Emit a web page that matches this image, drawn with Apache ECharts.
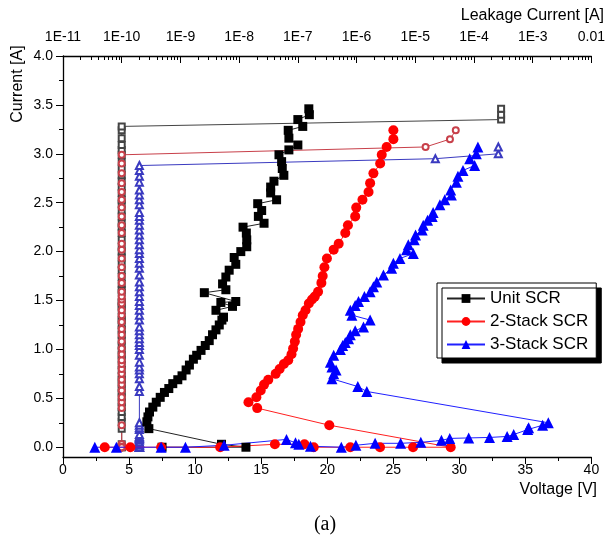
<!DOCTYPE html>
<html>
<head>
<meta charset="utf-8">
<script src="https://cdn.jsdelivr.net/npm/echarts@6/dist/echarts.min.js"></script>
<style>
html,body{margin:0;padding:0;background:#fff;}
#chart{width:608px;height:548px;}
</style>
</head>
<body>
<div id="chart"></div>
<script>
// ---------- DATA ----------
const seriesNames = ['Unit SCR', '2-Stack SCR', '3-Stack SCR'];
const voltageTicks = [0, 5, 10, 15, 20, 25, 30, 35, 40];
const currentTicks = ['0.0','0.5','1.0','1.5','2.0','2.5','3.0','3.5','4.0'];
const leakageTicks = [1e-11, 1e-10, 1e-9, 1e-8, 1e-7, 1e-6, 1e-5, 1e-4, 1e-3, 1e-2];
const leakageMinorTicks = [2,3,4,5,6,7,8,9];

// Unit SCR : TLP voltage [V] / current [A]
const unitV = [7.5, 13.85, 12.0, 6.50, 6.35, 6.43, 6.55, 6.80, 7.06, 7.36, 7.68, 8.01, 8.31, 8.69, 9.01, 9.32, 9.57, 9.87, 10.12, 10.45,
  10.77, 11.07, 11.32, 11.58, 11.83, 12.03, 12.15, 11.58, 12.83, 11.95, 13.08, 10.70, 12.33, 12.08, 12.33, 12.58, 13.08, 12.96, 13.46, 13.91,
  13.91, 13.88, 13.63, 15.22, 14.79, 15.04, 14.74, 16.17, 15.72, 15.72, 15.97, 16.72, 16.60, 16.55, 16.35, 17.10, 17.78, 17.10, 17.05, 18.15,
  17.78, 18.65, 18.61];
const unitI = [0.0, 0.0, 0.03, 0.19, 0.26, 0.31, 0.36, 0.41, 0.46, 0.51, 0.56, 0.60, 0.65, 0.69, 0.73, 0.79, 0.84, 0.90, 0.94, 0.99,
  1.04, 1.09, 1.15, 1.20, 1.25, 1.30, 1.33, 1.40, 1.44, 1.48, 1.49, 1.58, 1.61, 1.67, 1.74, 1.81, 1.87, 1.94, 2.00, 2.05,
  2.12, 2.19, 2.25, 2.29, 2.36, 2.42, 2.49, 2.53, 2.60, 2.66, 2.72, 2.78, 2.85, 2.92, 2.99, 3.04, 3.09, 3.16, 3.24, 3.28,
  3.35, 3.40, 3.46];
const unitLeak = [1.0e-10, 1.0e-10, 1.0e-10, 1.0e-10, 1.0e-10, 1.0e-10, 1.0e-10, 1.0e-10, 1.0e-10, 1.0e-10,
  1.0e-10, 1.0e-10, 1.0e-10, 1.0e-10, 1.0e-10, 1.0e-10, 1.0e-10, 1.0e-10, 1.0e-10, 1.0e-10,
  1.0e-10, 1.0e-10, 1.0e-10, 1.0e-10, 1.0e-10, 1.0e-10, 1.0e-10, 1.0e-10, 1.0e-10, 1.0e-10,
  1.0e-10, 1.0e-10, 1.0e-10, 1.0e-10, 1.0e-10, 1.0e-10, 1.0e-10, 1.0e-10, 1.0e-10, 1.0e-10,
  1.0e-10, 1.0e-10, 1.0e-10, 1.0e-10, 1.0e-10, 1.0e-10, 1.0e-10, 1.0e-10, 1.0e-10, 1.0e-10,
  1.0e-10, 1.0e-10, 1.0e-10, 1.0e-10, 1.0e-10, 1.0e-10, 1.0e-10, 1.0e-10, 1.0e-10, 1.0e-10,
  2.9e-4, 2.9e-4, 2.9e-4];

// 2-Stack SCR
const stack2V = [3.16, 5.10, 7.43, 11.9, 16.04, 18.28, 18.98, 21.75, 24.0, 26.5, 29.35, 20.16, 14.7, 14.04,
  14.64, 14.97, 15.22, 15.54, 16.10, 16.40, 16.72, 17.05, 17.30, 17.42, 17.55, 17.65, 17.80, 17.98, 18.15, 18.36,
  18.61, 18.85, 19.06, 19.31, 19.56, 19.66, 19.79, 19.98, 20.49, 20.87, 21.37, 21.57, 22.12, 22.20, 22.67, 23.13,
  23.25, 23.50, 24.01, 24.13, 24.50, 25.01, 25.01];
const stack2I = [0.0, 0.0, 0.0, 0.0, 0.03, 0.03, 0.0, 0.0, 0.0, 0.0, 0.0, 0.225, 0.40, 0.46,
  0.51, 0.58, 0.64, 0.69, 0.75, 0.80, 0.85, 0.89, 0.95, 1.01, 1.08, 1.15, 1.21, 1.28, 1.35, 1.40,
  1.47, 1.51, 1.54, 1.59, 1.68, 1.75, 1.84, 1.93, 2.02, 2.08, 2.19, 2.27, 2.36, 2.45, 2.53, 2.61,
  2.70, 2.80, 2.90, 2.99, 3.07, 3.15, 3.24];
const stack2Leak = [1.0e-10, 1.0e-10, 1.0e-10, 1.0e-10, 1.0e-10, 1.0e-10, 1.0e-10, 1.0e-10, 1.0e-10, 1.0e-10,
  1.0e-10, 1.0e-10, 1.0e-10, 1.0e-10, 1.0e-10, 1.0e-10, 1.0e-10, 1.0e-10, 1.0e-10, 1.0e-10,
  1.0e-10, 1.0e-10, 1.0e-10, 1.0e-10, 1.0e-10, 1.0e-10, 1.0e-10, 1.0e-10, 1.0e-10, 1.0e-10,
  1.0e-10, 1.0e-10, 1.0e-10, 1.0e-10, 1.0e-10, 1.0e-10, 1.0e-10, 1.0e-10, 1.0e-10, 1.0e-10,
  1.0e-10, 1.0e-10, 1.0e-10, 1.0e-10, 1.0e-10, 1.0e-10, 1.0e-10, 1.0e-10, 1.0e-10, 1.0e-10,
  1.5e-5, 3.9e-5, 4.9e-5];

// 3-Stack SCR
const stack3V = [2.41, 4.04, 7.43, 9.27, 12.2, 16.92, 17.6, 17.85, 18.73, 21.07, 22.17, 23.63, 25.56, 27.09, 28.65,
  29.28, 30.71, 32.29, 33.62, 34.12, 35.18, 35.25, 36.31, 36.74, 23.0, 22.32, 20.36, 20.49, 20.67, 20.36,
  20.24, 20.49, 21.0, 21.17, 21.37, 21.62, 21.75, 22.12, 22.75, 23.25, 21.87, 21.75, 22.12, 22.37, 22.82,
  23.25, 23.5, 23.75, 24.26, 24.88, 25.01, 25.51, 26.52, 26.01, 26.14, 26.59, 26.69, 27.19, 27.27, 27.6,
  27.95, 28.02, 28.53, 28.90, 29.40, 29.35, 29.78, 29.90, 30.28, 31.16, 30.79, 31.29, 31.41];
const stack3I = [0.0, 0.0, 0.0, 0.0, 0.02, 0.08, 0.045, 0.03, 0.01, 0.0, 0.02, 0.04, 0.04, 0.05, 0.07,
  0.09, 0.095, 0.10, 0.11, 0.13, 0.18, 0.20, 0.225, 0.25, 0.57, 0.62, 0.70, 0.75, 0.79, 0.82,
  0.87, 0.94, 1.00, 1.04, 1.07, 1.11, 1.15, 1.19, 1.23, 1.30, 1.35, 1.40, 1.45, 1.49, 1.54,
  1.59, 1.64, 1.69, 1.76, 1.83, 1.88, 1.93, 1.98, 2.02, 2.07, 2.12, 2.17, 2.22, 2.27, 2.32,
  2.36, 2.40, 2.48, 2.53, 2.58, 2.63, 2.71, 2.77, 2.83, 2.88, 2.95, 3.00, 3.07];
const stack3Leak = [2.0e-10, 2.0e-10, 2.0e-10, 2.0e-10, 2.0e-10, 2.0e-10, 2.0e-10, 2.0e-10, 2.0e-10, 2.0e-10,
  2.0e-10, 2.0e-10, 2.0e-10, 2.0e-10, 2.0e-10, 2.0e-10, 2.0e-10, 2.0e-10, 2.0e-10, 2.0e-10,
  2.0e-10, 2.0e-10, 2.0e-10, 2.0e-10, 2.0e-10, 2.0e-10, 2.0e-10, 2.0e-10, 2.0e-10, 2.0e-10,
  2.0e-10, 2.0e-10, 2.0e-10, 2.0e-10, 2.0e-10, 2.0e-10, 2.0e-10, 2.0e-10, 2.0e-10, 2.0e-10,
  2.0e-10, 2.0e-10, 2.0e-10, 2.0e-10, 2.0e-10, 2.0e-10, 2.0e-10, 2.0e-10, 2.0e-10, 2.0e-10,
  2.0e-10, 2.0e-10, 2.0e-10, 2.0e-10, 2.0e-10, 2.0e-10, 2.0e-10, 2.0e-10, 2.0e-10, 2.0e-10,
  2.0e-10, 2.0e-10, 2.0e-10, 2.0e-10, 2.0e-10, 2.0e-10, 2.0e-10, 2.0e-10, 2.0e-10, 2.0e-10,
  2.2e-5, 2.6e-4, 2.6e-4];

// ---------- BUILD ----------
const zip = (xs, ys) => xs.map((x, i) => [x, ys[i]]);
const FONT = 'Liberation Sans, Arial, sans-serif';
const minorLeak = [];
leakageTicks.slice(0, -1).forEach(d => leakageMinorTicks.forEach(m => minorLeak.push(d * m)));

const chart = echarts.init(document.getElementById('chart'), null, {renderer: 'canvas'});
const axisLineStyle = {color: '#000', width: 1.3};
const gridMain = {left: 63, right: 14, top: 56, bottom: 91};
const yZeroBottom = 548 - (457 - 0.1 * (401 / 4.1));

function leakSeries(name, data, color, symbol, size) {
  return {
    name: name + ' leakage', type: 'line', xAxisIndex: 1, yAxisIndex: 0,
    data: data, symbol: symbol, symbolSize: size, showAllSymbol: true,
    lineStyle: {color: color, width: 1}, itemStyle: {color: color, borderWidth: 1},
    emphasis: {disabled: true}, animation: false, z: 2
  };
}
function ivSeries(name, data, color, lineColor, symbol, size) {
  return {
    name: name, type: 'line', xAxisIndex: 0, yAxisIndex: 0,
    data: data, symbol: symbol, symbolSize: size, showAllSymbol: true,
    lineStyle: {color: lineColor, width: 1}, itemStyle: {color: color},
    emphasis: {disabled: true}, animation: false, z: 3
  };
}

const option = {
  backgroundColor: '#fff',
  animation: false,
  grid: [
    Object.assign({}, gridMain),
    {left: 63, right: 14, top: 56, bottom: yZeroBottom}
  ],
  xAxis: [
    { // voltage (bottom)
      type: 'value', gridIndex: 0, position: 'bottom', min: voltageTicks[0], max: voltageTicks[voltageTicks.length - 1], interval: 5,
      axisLine: {show: true, onZero: false, lineStyle: axisLineStyle},
      axisTick: {show: true, inside: false, length: 7, lineStyle: {color: '#000', width: 1}},
      minorTick: {show: true, splitNumber: 2, length: 4, lineStyle: {color: '#000', width: 1}},
      axisLabel: {show: true, margin: 6, fontSize: 14, color: '#000', fontFamily: FONT},
      splitLine: {show: false}
    },
    { // leakage (top, log) majors + labels
      type: 'log', logBase: 10, gridIndex: 0, position: 'top', min: leakageTicks[0], max: leakageTicks[leakageTicks.length - 1],
      splitNumber: 9,
      axisLine: {show: true, onZero: false, lineStyle: axisLineStyle},
      axisTick: {show: true, inside: true, length: 7, customValues: leakageTicks, lineStyle: {color: '#000', width: 1}},
      axisLabel: {show: true, margin: 12, fontSize: 14, color: '#000', fontFamily: FONT, customValues: leakageTicks,
        formatter: v => { const e = Math.round(Math.log10(v)); return e >= -2 ? '0.01' : '1E' + e; }},
      splitLine: {show: false}
    },
    { // leakage minor ticks
      type: 'log', logBase: 10, gridIndex: 0, position: 'top', min: leakageTicks[0], max: leakageTicks[leakageTicks.length - 1],
      axisLine: {show: false, onZero: false},
      axisTick: {show: true, inside: true, length: 4, customValues: minorLeak, lineStyle: {color: '#000', width: 1}},
      axisLabel: {show: false},
      splitLine: {show: false}
    },
    { // helper for label grid
      type: 'value', gridIndex: 1, min: 0, max: 40, show: false
    }
  ],
  yAxis: [
    { // main current axis (line only)
      type: 'value', gridIndex: 0, position: 'left', min: -0.1, max: 4.0,
      axisLine: {show: true, onZero: false, lineStyle: axisLineStyle},
      axisTick: {show: false}, axisLabel: {show: false}, splitLine: {show: false}
    },
    { // labels and ticks of the current axis, 0..4
      type: 'value', gridIndex: 1, position: 'left', min: 0, max: 4.0, interval: 0.5,
      axisLine: {show: false, onZero: false},
      axisTick: {show: true, inside: false, length: 7, lineStyle: {color: '#000', width: 1}},
      minorTick: {show: true, splitNumber: 2, length: 4, lineStyle: {color: '#000', width: 1}},
      axisLabel: {show: true, margin: 10, fontSize: 14, color: '#000', fontFamily: FONT,
        formatter: v => currentTicks[Math.round(v * 2)]},
      splitLine: {show: false}
    }
  ],
  legend: {
    data: seriesNames,
    orient: 'vertical', left: 437, top: 283,
    itemWidth: 38, itemHeight: 11, itemGap: 6,
    padding: [7, 8, 5, 9],
    backgroundColor: '#fff', borderColor: '#000', borderWidth: 1,
    shadowColor: '#000', shadowOffsetX: 5, shadowOffsetY: 5, shadowBlur: 0,
    textStyle: {fontSize: 17, color: '#000', fontFamily: FONT, lineHeight: 17},
    selectedMode: false
  },
  series: [
    leakSeries('Unit SCR', zip(unitLeak, unitI), '#444444', 'emptyRect', 6),
    leakSeries('2-Stack SCR', zip(stack2Leak, stack2I), '#c8404a', 'emptyCircle', 6),
    leakSeries('3-Stack SCR', zip(stack3Leak, stack3I), '#3a3ac0', 'emptyTriangle', 7),
    ivSeries(seriesNames[0], zip(unitV, unitI), '#000000', '#222222', 'rect', 9),
    ivSeries(seriesNames[1], zip(stack2V, stack2I), '#ff0000', '#ff2020', 'circle', 10),
    ivSeries(seriesNames[2], zip(stack3V, stack3I), '#0000ff', '#2020ff', 'triangle', 11)
  ],
  graphic: [
    {type: 'text', x: 18, y: 84, rotation: Math.PI / 2,
      style: {text: 'Current [A]', font: '16px ' + FONT, fill: '#000', textAlign: 'center', textVerticalAlign: 'middle'}},
    {type: 'text', x: 597, y: 490,
      style: {text: 'Voltage [V]', font: '16px ' + FONT, fill: '#000', textAlign: 'right', textVerticalAlign: 'middle'}},
    {type: 'text', x: 604, y: 16,
      style: {text: 'Leakage Current [A]', font: '16px ' + FONT, fill: '#000', textAlign: 'right', textVerticalAlign: 'middle'}},
    {type: 'text', x: 325, y: 525,
      style: {text: '(a)', font: '20px Liberation Serif, Times New Roman, serif', fill: '#000', textAlign: 'center', textVerticalAlign: 'middle'}}
  ]
};
chart.setOption(option);
</script>
</body>
</html>
